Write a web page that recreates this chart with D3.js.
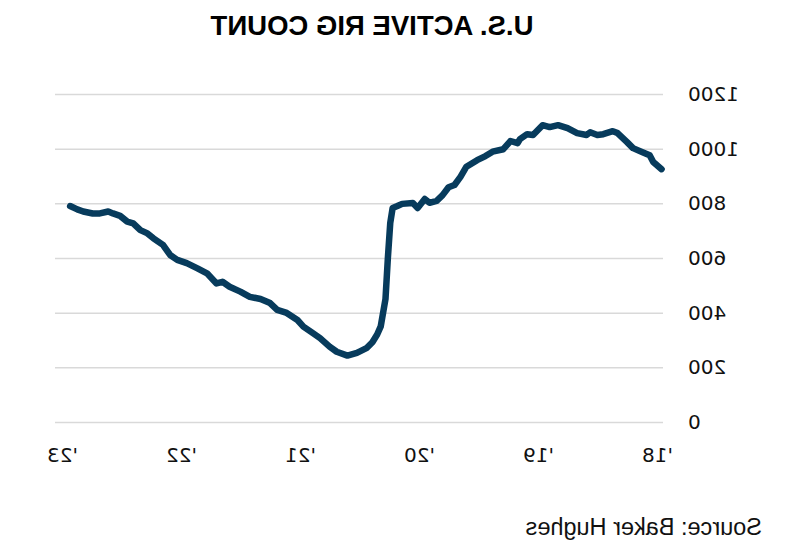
<!DOCTYPE html>
<html>
<head>
<meta charset="utf-8">
<script src="https://cdn.jsdelivr.net/npm/d3@7"></script>
<style>
  body { margin: 0; background: #fff; }
  svg { display: block; }
</style>
</head>
<body>
<svg id="chart" width="788" height="555"></svg>
<script>
// decimal year of each reading
const years = [
  2017.97, 2018.04, 2018.07, 2018.13, 2018.21, 2018.26, 2018.34, 2018.38, 2018.46, 2018.51,
  2018.57, 2018.60, 2018.68, 2018.76, 2018.84, 2018.91, 2018.97, 2019.05, 2019.10, 2019.16,
  2019.18, 2019.24, 2019.30, 2019.39, 2019.45, 2019.52, 2019.61, 2019.66, 2019.71, 2019.76,
  2019.81, 2019.86, 2019.92, 2019.96, 2020.02, 2020.06, 2020.15, 2020.19, 2020.23, 2020.25,
  2020.27, 2020.29, 2020.33, 2020.36, 2020.40, 2020.45, 2020.53, 2020.61, 2020.70, 2020.76,
  2020.84, 2020.90, 2020.98, 2021.03, 2021.12, 2021.20, 2021.26, 2021.34, 2021.43, 2021.51,
  2021.60, 2021.66, 2021.71, 2021.79, 2021.87, 2021.96, 2022.04, 2022.10, 2022.16, 2022.24,
  2022.29, 2022.35, 2022.41, 2022.46, 2022.52, 2022.58, 2022.62, 2022.69, 2022.75, 2022.83,
  2022.88, 2022.94
];
// active rigs
const rigs = [
  925, 951, 976, 987, 1002, 1024, 1057, 1064, 1053, 1050,
  1060, 1050, 1057, 1075, 1086, 1079, 1086, 1050, 1053, 1035,
  1020, 1028, 998, 989, 973, 958, 934, 897, 867, 859,
  830, 809, 802, 816, 783, 801, 798, 790, 783, 728,
  600, 450, 350, 320, 292, 270, 253, 243, 257, 276,
  307, 325, 349, 373, 399, 410, 435, 450, 458, 477,
  495, 513, 507, 544, 562, 581, 593, 611, 648, 672,
  690, 702, 727, 733, 754, 763, 770, 763, 763, 770,
  778, 790
];
const yearTicks = [2018, 2019, 2020, 2021, 2022, 2023];
const countTicks = [0, 200, 400, 600, 800, 1000, 1200];

const title = "U.S. ACTIVE RIG COUNT";
const source = "Source: Baker Hughes";

const svg = d3.select("#chart");

// the whole picture is a mirror image, so draw it normally and flip it
const root = svg.append("g")
  .attr("transform", "translate(788,0) scale(-1,1)");

const x = d3.scaleLinear().domain([2018, 2023]).range([130, 725]);
const y = d3.scaleLinear().domain([0, 1200]).range([422, 94]);

// gridlines + value labels
const yAxis = root.append("g")
  .attr("transform", "translate(125,0)")
  .call(d3.axisLeft(y).tickValues(countTicks).tickSize(-608).tickPadding(25)
    .tickFormat(d => String(d)));
yAxis.select(".domain").remove();
yAxis.selectAll(".tick line")
  .attr("stroke", "#d9d9d9")
  .attr("stroke-width", 1.5);
yAxis.selectAll(".tick text")
  .attr("fill", "#111")
  .style("font-family", "'DejaVu Sans', sans-serif")
  .style("font-size", "20px");

// year labels
const xAxis = root.append("g")
  .attr("transform", "translate(0,422)")
  .call(d3.axisBottom(x).tickValues(yearTicks).tickSize(0).tickPadding(26)
    .tickFormat(d => "'" + String(d).slice(2)));
xAxis.select(".domain").remove();
xAxis.selectAll(".tick text")
  .attr("fill", "#111")
  .style("font-family", "'DejaVu Sans', sans-serif")
  .style("font-size", "20px");

// rig count line
const line = d3.line()
  .x((d, i) => x(years[i]))
  .y(d => y(d));

root.append("path")
  .datum(rigs)
  .attr("d", line)
  .attr("fill", "none")
  .attr("stroke", "#073b5c")
  .attr("stroke-width", 6.5)
  .attr("stroke-linejoin", "round")
  .attr("stroke-linecap", "round");

// title
root.append("text")
  .attr("x", 416)
  .attr("y", 35)
  .attr("text-anchor", "middle")
  .style("font-family", "'Liberation Sans', Arial, sans-serif")
  .style("font-weight", "bold")
  .style("font-size", "27.5px")
  .attr("fill", "#000")
  .text(title);

// source note
root.append("text")
  .attr("x", 26)
  .attr("y", 535)
  .style("font-family", "'Liberation Sans', Arial, sans-serif")
  .style("font-size", "23.5px")
  .attr("fill", "#111")
  .text(source);
</script>
</body>
</html>
